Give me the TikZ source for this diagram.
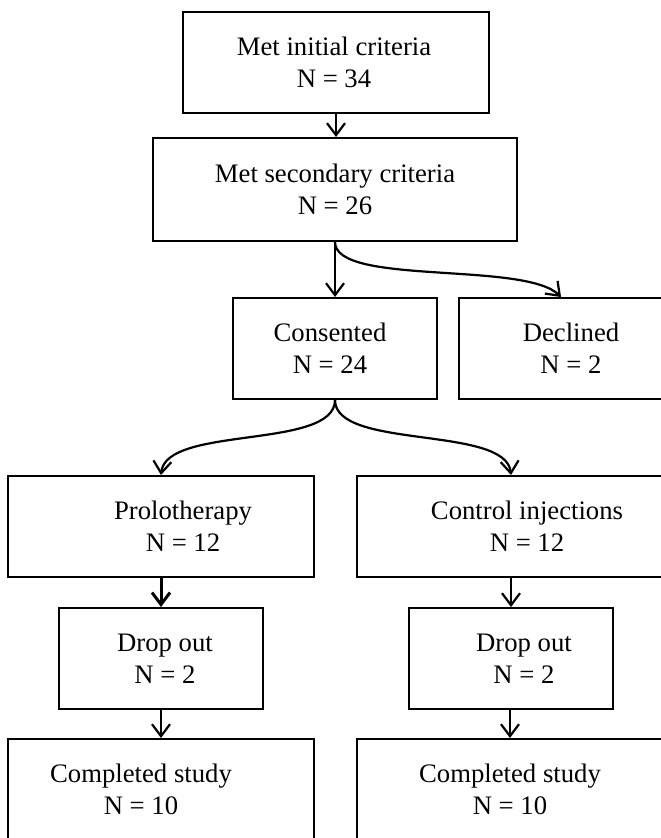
\documentclass[tikz,border=0pt]{standalone}
\usepackage{fontspec}
\setmainfont{Liberation Serif}
\usetikzlibrary{arrows.meta}

\begin{document}
\begin{tikzpicture}[x=1pt,y=-1pt,
    box/.style={draw, line width=2pt, minimum height=101pt, inner sep=0pt},
    wide/.style={box, minimum width=306pt},
    narrow/.style={box, minimum width=204pt},
    txt/.style={align=center, font=\fontsize{26.7}{32}\selectfont},
    arr/.style={line width=2.2pt, -{Straight Barb[length=12pt,width=18pt]}}]

\path [use as bounding box, clip] (0,0) rectangle (661,838);

% boxes
\node [wide]   (ini) at (336,62.5)  {};
\node [box, minimum width=364pt, minimum height=103pt] (sec) at (335,189.5) {};
\node [narrow] (con) at (335,348.5) {};
\node [narrow] (dec) at (561,348.5) {};
\node [wide]   (pro) at (161,526.5) {};
\node [wide]   (ctl) at (510,526.5) {};
\node [narrow] (dpl) at (161,658.5) {};
\node [narrow] (dpr) at (511,658.5) {};
\node [wide]   (cml) at (161,789.5) {};
\node [wide]   (cmr) at (510,789.5) {};

% texts
\node [txt] at ([xshift=-2]ini.center)  {Met initial criteria\\N = 34};
\node [txt] at (sec.center)             {Met secondary criteria\\N = 26};
\node [txt] at ([xshift=-5]con.center)  {Consented\\N = 24};
\node [txt] at ([xshift=10]dec.center)  {Declined\\N = 2};
\node [txt] at ([xshift=22]pro.center)  {Prolotherapy\\N = 12};
\node [txt] at ([xshift=17]ctl.center)  {Control injections\\N = 12};
\node [txt] at ([xshift=4]dpl.center)   {Drop out\\N = 2};
\node [txt] at ([xshift=13]dpr.center)  {Drop out\\N = 2};
\node [txt] at ([xshift=-20]cml.center) {Completed study\\N = 10};
\node [txt] at (cmr.center)             {Completed study\\N = 10};

% arrows
\draw [arr] (ini.south) -- (ini.south |- sec.north);
\draw [arr] (sec.south) -- (con.north);
\draw [arr] (sec.south) .. controls +(0,44) and +(-36,-36) .. (dec.north);
\draw [arr] (con.south) .. controls +(0,50) and +(5,-50) .. (pro.north);
\draw [arr] (con.south) .. controls +(0,50) and +(-5,-50) .. ([xshift=1]ctl.north);

\draw [arr, line width=3pt] (pro.south) -- (dpl.north);
\draw [arr] (dpl.south) -- (cml.north);
\foreach \a/\b in {ctl/dpr, dpr/cmr}
    \draw [arr] (\b.north |- \a.south) -- (\b.north);

\end{tikzpicture}
\end{document}
